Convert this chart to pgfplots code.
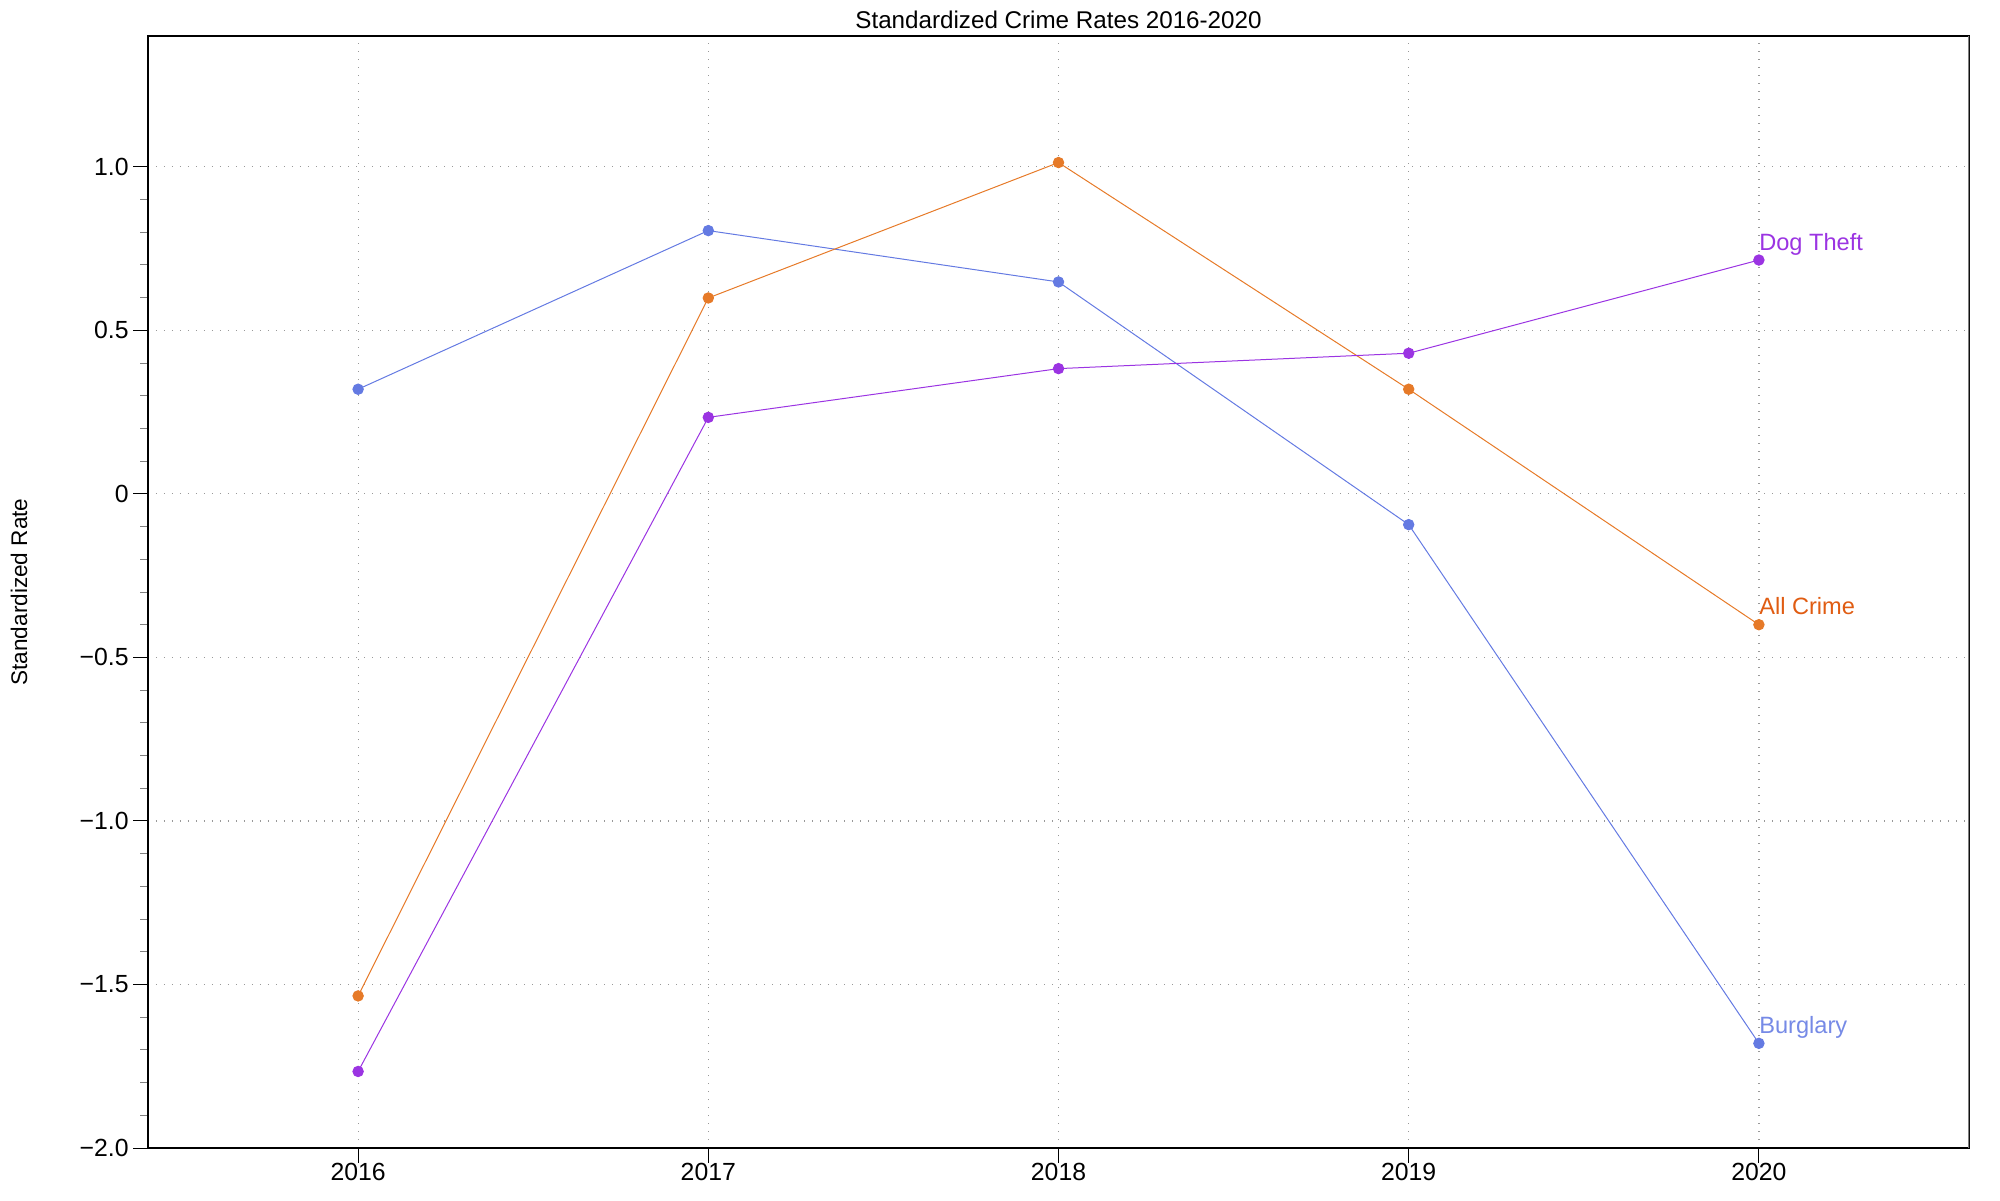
\documentclass[border=0pt]{standalone}
\usepackage{fontspec}
\setmainfont{Liberation Sans}
\usepackage{pgfplots}
\pgfplotsset{compat=1.18}

\definecolor{burgBlue}{RGB}{100,122,226}
\definecolor{burgLabel}{RGB}{118,138,230}
\definecolor{crimeOrange}{RGB}{230,122,40}
\definecolor{crimeLabel}{RGB}{224,92,18}
\definecolor{dogPurple}{RGB}{155,52,226}

\begin{document}
\begin{tikzpicture}
\useasboundingbox (-74pt,-26pt) rectangle (926pt,574pt);
\begin{axis}[
    scale only axis,
    width=910.5pt,
    height=556pt,
    xmin=2015.4, xmax=2020.6,
    ymin=-2, ymax=1.4,
    xtick={2016,2017,2018,2019,2020},
    xticklabels={2016,2017,2018,2019,2020},
    ytick={-2,-1.5,-1,-0.5,0,0.5,1},
    yticklabels={−2.0,−1.5,−1.0,−0.5,0,0.5,1.0},
    minor y tick num=4,
    minor x tick num=0,
    xtick pos=bottom,
    ytick pos=left,
    tick align=outside,
    major tick length=7.5pt,
    minor tick length=4pt,
    every major tick/.style={black, line width=0.5pt},
    every minor tick/.style={gray, line width=0.5pt},
    axis line style={black, line width=0.6pt},
    grid=major,
    major grid style={gray!80, line width=0.6pt, dash pattern=on 0.6pt off 3.4pt},
    tick label style={font=\fontsize{12.4}{14}\selectfont},
    /pgf/number format/assume math mode=true,
    xticklabel style={anchor=north, inner sep=0pt},
    yticklabel style={anchor=east, inner sep=0pt, xshift=-2pt},
    every axis title shift=0pt,
    title={Standardized Crime Rates 2016-2020},
    title style={at={(axis description cs:0.5,1.0144)}, anchor=center, font=\fontsize{12.1}{14}\selectfont},
    ylabel={Standardized Rate},
    ylabel style={at={(axis description cs:-0.0708,0.5)}, anchor=center, font=\fontsize{11.3}{13}\selectfont},
    every axis plot/.append style={line width=0.5pt, mark=*, mark size=2.6pt},
]
% Burglary
\addplot[color=burgBlue, mark options={fill=burgBlue, draw=burgBlue}] coordinates {
(2016,0.320) (2017,0.805) (2018,0.648) (2019,-0.094) (2020,-1.680)
};
% All Crime
\addplot[color=crimeOrange, mark options={fill=crimeOrange, draw=crimeOrange}] coordinates {
(2016,-1.535) (2017,0.599) (2018,1.013) (2019,0.320) (2020,-0.400)
};
% Dog Theft
\addplot[color=dogPurple, mark options={fill=dogPurple, draw=dogPurple}] coordinates {
(2016,-1.766) (2017,0.234) (2018,0.383) (2019,0.430) (2020,0.715)
};

\node[anchor=base west, inner sep=0pt, text=dogPurple, font=\fontsize{11.8}{14}\selectfont, yshift=5pt] at (axis cs:2020,0.715) {Dog Theft};
\node[anchor=base west, inner sep=0pt, text=crimeLabel, font=\fontsize{11.8}{14}\selectfont, yshift=5pt] at (axis cs:2020,-0.400) {All Crime};
\node[anchor=base west, inner sep=0pt, text=burgLabel, font=\fontsize{11.8}{14}\selectfont, yshift=5pt] at (axis cs:2020,-1.680) {Burglary};
\draw[gray, line width=0.6pt] (axis description cs:1,0) -- (axis description cs:1,1);
\end{axis}
\end{tikzpicture}
\end{document}
